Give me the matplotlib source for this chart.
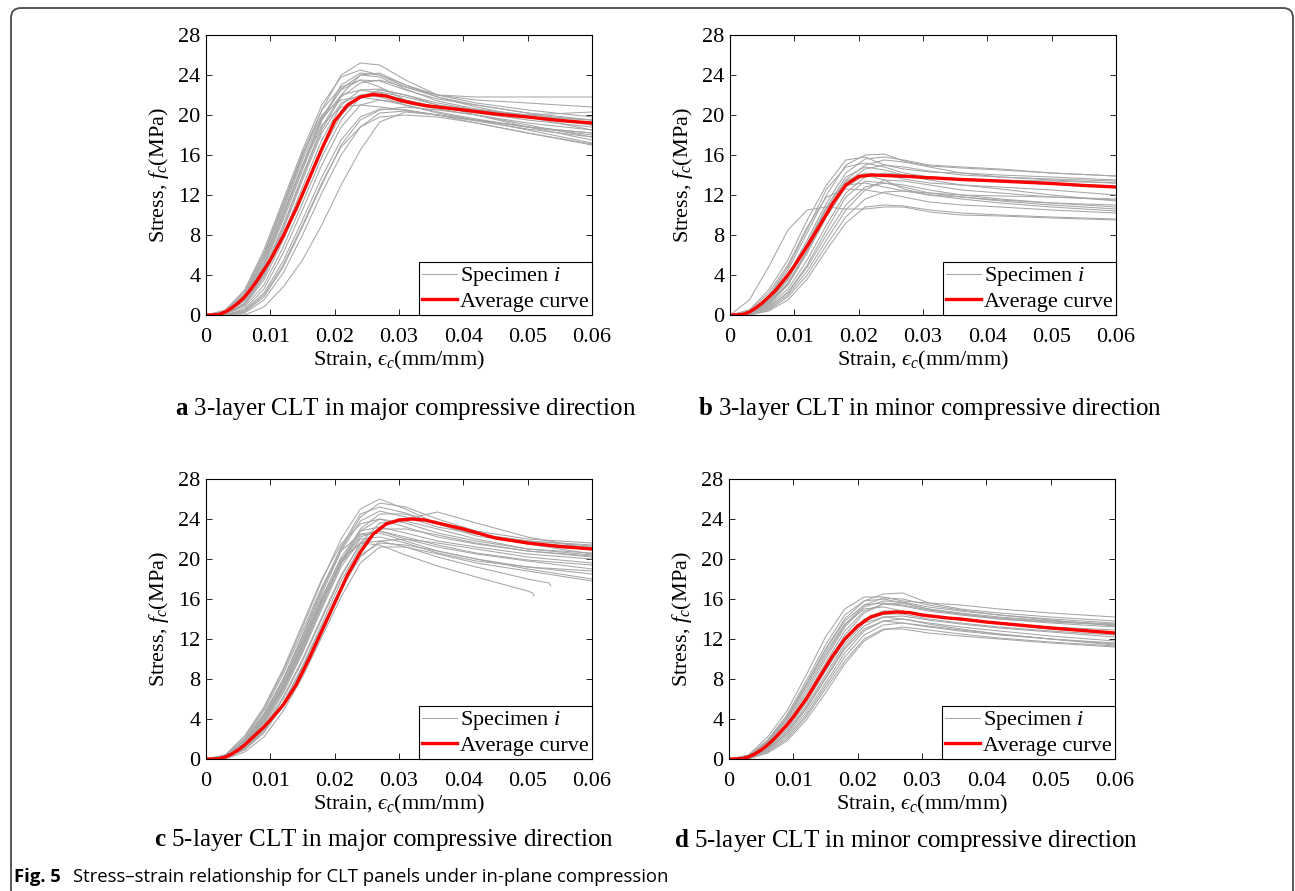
import numpy as np
import matplotlib
matplotlib.use('Agg')
import matplotlib.pyplot as plt
from matplotlib.patches import FancyBboxPatch

plt.rcParams['font.family'] = 'Liberation Serif'
plt.rcParams['mathtext.fontset'] = 'custom'
plt.rcParams['mathtext.rm'] = 'Liberation Serif'
plt.rcParams['mathtext.it'] = 'Liberation Serif:italic'
plt.rcParams['mathtext.bf'] = 'Liberation Serif:bold'

# strain points shared by the specimen curves
strain = [0, 0.003, 0.006, 0.009, 0.012, 0.015, 0.018, 0.021, 0.024, 0.027,
          0.031, 0.036, 0.042, 0.050, 0.060]

# strain points of the average curves
strain_avg = [0, 0.001, 0.002, 0.003, 0.004, 0.005, 0.006, 0.007, 0.008, 0.009,
              0.010, 0.012, 0.014, 0.016, 0.018, 0.020, 0.022, 0.024, 0.026, 0.028,
              0.030, 0.032, 0.034, 0.036, 0.040, 0.045, 0.050, 0.055, 0.060]

# 3-layer, major direction
spec_a = [
    [0, 0.5, 2.5, 6.5, 11.5, 16.5, 21.0, 23.8, 24.5, 24.0, 22.8, 21.8, 21.0, 20.2, 19.5],
    [0, 0.3, 2.0, 5.8, 10.8, 15.8, 20.5, 24.0, 25.2, 25.0, 23.5, 22.0, 21.2, 20.5, 19.8],
    [0, 0.2, 1.5, 4.8, 9.5, 14.5, 19.5, 23.0, 24.2, 24.0, 23.0, 22.0, 21.5, 21.2, 20.8],
    [0, 0.2, 1.8, 5.5, 10.5, 15.5, 19.8, 22.5, 23.5, 23.4, 22.5, 21.6, 21.0, 20.2, 19.0],
    [0, 0.1, 1.2, 4.2, 8.8, 13.8, 18.5, 21.8, 23.2, 23.5, 22.8, 22.0, 21.8, 21.8, 21.8],
    [0, 0.1, 1.0, 3.8, 8.0, 12.8, 17.5, 21.0, 22.5, 22.6, 22.0, 21.2, 20.5, 19.8, 19.0],
    [0, 0.3, 2.2, 6.0, 11.0, 16.0, 20.0, 21.5, 21.8, 21.5, 21.0, 20.3, 19.6, 18.8, 18.0],
    [0, 0.2, 1.6, 5.0, 9.8, 14.8, 19.0, 20.8, 21.0, 20.8, 20.5, 20.0, 19.5, 18.8, 18.2],
    [0, 0.1, 1.0, 3.5, 7.5, 12.0, 16.5, 20.0, 22.0, 22.3, 21.8, 21.0, 20.5, 20.0, 19.5],
    [0, 0.0, 0.6, 2.6, 6.2, 10.5, 15.0, 18.8, 21.0, 21.5, 21.2, 20.6, 20.0, 19.2, 18.5],
    [0, 0.0, 0.5, 2.2, 5.4, 9.5, 13.8, 17.5, 19.8, 20.6, 20.5, 20.0, 19.4, 18.6, 17.8],
    [0, 0.0, 0.2, 1.5, 4.2, 8.0, 12.2, 16.0, 18.8, 20.2, 20.4, 20.0, 19.5, 18.5, 17.2],
    [0, 0.0, 0.3, 1.8, 4.8, 8.8, 13.0, 17.0, 19.5, 20.5, 20.8, 20.5, 20.0, 19.0, 17.8],
    [0, 0.4, 2.4, 6.2, 11.2, 16.2, 20.5, 22.8, 23.5, 22.8, 21.5, 20.8, 20.2, 19.5, 18.8],
    [0, 0.2, 1.4, 4.5, 9.0, 14.0, 18.8, 22.0, 24.0, 24.2, 23.0, 21.8, 20.8, 19.8, 18.5],
    [0, 0.1, 0.8, 3.0, 6.8, 11.2, 15.8, 19.5, 21.8, 22.5, 22.0, 21.0, 20.0, 18.8, 17.5],
    [0, 0.3, 2.0, 5.5, 10.2, 15.0, 19.5, 22.0, 22.5, 22.2, 21.5, 20.8, 20.3, 19.8, 19.5],
    [0, 0.1, 1.1, 4.0, 8.5, 13.5, 18.2, 21.2, 22.0, 21.8, 21.0, 20.2, 19.5, 18.8, 18.2],
    [0, 0.0, 0.4, 2.0, 5.0, 9.0, 13.2, 16.8, 18.8, 19.8, 20.0, 19.8, 19.2, 18.2, 17.0],
    [0, 0.2, 1.7, 5.2, 10.0, 15.0, 19.6, 22.6, 24.0, 23.8, 22.6, 21.4, 20.6, 20.0, 20.3],
    [0, 0.0, 0.0, 0.8, 2.8, 5.5, 9.0, 13.0, 16.5, 19.3, 20.3, 20.0, 19.2, 18.2, 17.1],
]
avg_a = [0, 0, 0.05, 0.3, 0.7, 1.2, 1.8, 2.6, 3.5, 4.5, 5.5, 7.9, 10.6, 13.6, 16.6,
         19.4, 21.0, 21.8, 22.05, 21.9, 21.5, 21.2, 20.95, 20.8, 20.5, 20.1, 19.8, 19.45, 19.2]

# 3-layer, minor direction
spec_b = [
    [0, 1.5, 4.8, 8.5, 10.5, 10.8, 10.6, 10.6, 10.8, 10.8, 10.3, 10.0, 9.9, 9.7, 9.5],
    [0, 0.5, 2.5, 5.5, 9.5, 13.0, 15.5, 15.8, 15.0, 14.6, 14.3, 14.2, 14.0, 13.8, 13.5],
    [0, 0.3, 1.8, 4.5, 8.2, 12.0, 15.0, 16.0, 16.1, 15.4, 14.9, 14.7, 14.5, 14.2, 13.9],
    [0, 0.3, 1.6, 4.0, 7.5, 11.2, 14.2, 15.6, 15.8, 15.5, 15.0, 14.8, 14.6, 14.2, 13.9],
    [0, 0.2, 1.2, 3.2, 6.5, 10.2, 13.5, 15.0, 15.5, 15.3, 14.8, 14.2, 13.8, 13.5, 13.2],
    [0, 0.2, 1.5, 3.8, 7.2, 10.8, 13.4, 14.2, 14.0, 13.6, 13.2, 13.0, 12.8, 12.5, 12.0],
    [0, 0.1, 0.9, 2.6, 5.5, 9.0, 12.2, 13.8, 14.2, 14.0, 13.5, 13.0, 12.6, 12.0, 11.4],
    [0, 0.1, 0.8, 2.2, 4.8, 8.0, 11.0, 12.8, 13.2, 13.0, 12.5, 12.0, 11.6, 11.2, 10.8],
    [0, 0.0, 0.5, 1.8, 4.0, 7.0, 9.8, 11.6, 12.3, 12.4, 12.0, 11.6, 11.2, 10.8, 10.4],
    [0, 0.4, 2.2, 5.0, 8.8, 11.8, 12.6, 12.5, 12.2, 11.8, 11.3, 11.0, 10.8, 10.5, 10.2],
    [0, 0.2, 1.3, 3.5, 7.0, 10.8, 13.8, 14.8, 14.5, 14.0, 13.8, 13.6, 13.4, 13.2, 12.9],
    [0, 0.0, 0.6, 2.0, 4.4, 7.5, 10.5, 12.5, 13.5, 13.4, 13.0, 12.5, 12.2, 11.8, 11.5],
    [0, 0.1, 1.0, 3.0, 6.2, 9.8, 12.8, 14.0, 13.5, 12.6, 12.0, 11.8, 11.5, 11.2, 11.0],
    [0, 0.3, 1.9, 4.8, 8.6, 12.6, 14.8, 15.2, 14.8, 14.2, 13.8, 13.6, 13.5, 13.4, 13.2],
    [0, 0.0, 0.4, 1.5, 3.6, 6.5, 9.2, 10.8, 11.0, 10.9, 10.5, 10.2, 10.0, 9.8, 9.6],
    [0, 0.2, 1.1, 3.1, 6.4, 10.0, 13.2, 14.6, 15.0, 14.8, 14.4, 14.0, 13.8, 13.6, 13.4],
    [0, 0.1, 0.7, 2.3, 5.0, 8.5, 11.8, 13.4, 13.2, 12.8, 12.2, 11.8, 11.4, 11.0, 10.6],
    [0, 0.2, 1.4, 3.6, 7.0, 10.6, 13.0, 13.2, 12.8, 12.4, 12.2, 12.0, 11.9, 11.8, 11.6],
]
avg_b = [0, 0, 0.05, 0.3, 0.7, 1.2, 1.8, 2.4, 3.2, 4.0, 4.9, 6.9, 9.0, 11.2, 13.0,
         13.85, 14.0, 13.95, 13.9, 13.85, 13.75, 13.7, 13.62, 13.55, 13.45, 13.3, 13.15, 12.95, 12.8]

# 5-layer, major direction
spec_c = [
    [0, 0.4, 2.2, 5.0, 8.8, 13.2, 17.8, 22.0, 25.0, 26.0, 25.0, 23.5, 22.3, 21.6, 21.2],
    [0, 0.3, 1.9, 4.5, 8.0, 12.2, 16.8, 21.0, 24.2, 25.6, 25.2, 24.0, 22.8, 22.0, 21.6],
    [0, 0.3, 1.8, 4.3, 7.8, 12.0, 16.5, 20.8, 23.8, 24.8, 24.2, 23.2, 22.5, 21.8, 21.3],
    [0, 0.2, 1.5, 3.8, 7.0, 11.0, 15.5, 19.8, 23.0, 24.5, 24.5, 23.6, 22.6, 21.5, 20.5],
    [0, 0.1, 1.0, 2.8, 5.6, 9.3, 13.5, 17.8, 21.2, 23.2, 24.0, 24.7, 23.6, 22.2, 21.0],
    [0, 0.3, 2.0, 4.8, 8.5, 12.8, 17.2, 20.8, 22.5, 22.8, 22.0, 21.2, 20.5, 19.8, 19.0],
    [0, 0.2, 1.6, 4.0, 7.4, 11.6, 16.0, 20.2, 22.8, 23.2, 22.6, 21.8, 21.2, 20.5, 20.0],
    [0, 0.1, 1.2, 3.2, 6.2, 10.0, 14.2, 18.4, 21.5, 23.0, 23.0, 22.4, 21.6, 20.8, 20.2],
    [0, 0.1, 1.0, 2.8, 5.6, 9.2, 13.2, 17.2, 20.4, 21.6, 21.4, 20.8, 20.0, 19.0, 18.0],
    [0, 0.0, 0.7, 2.2, 4.8, 8.2, 12.2, 16.2, 19.6, 21.2, 21.2, 20.5, 19.6, 18.8, 17.8],
    [0, 0.4, 2.3, 5.2, 9.0, 13.5, 18.0, 21.5, 23.5, 24.0, 23.2, 22.2, 21.5, 20.8, 20.3],
    [0, 0.2, 1.6, 4.0, 7.3, 11.4, 15.8, 19.8, 22.4, 22.6, 21.8, 20.8, 20.0, 19.2, 18.5],
    [0, 0.1, 1.1, 3.0, 6.0, 9.8, 14.0, 18.2, 21.6, 23.6, 23.8, 23.0, 22.0, 21.0, 20.4],
    [0, 0.2, 1.3, 3.4, 6.6, 10.6, 15.0, 19.2, 22.0, 22.2, 21.6, 20.6, 19.8, 19.2, 18.8],
    [0, 0.3, 1.8, 4.4, 8.0, 12.4, 17.0, 21.2, 24.5, 25.2, 24.6, 23.5, 22.5, 21.8, 21.4],
    [0, 0.2, 1.4, 3.6, 6.8, 10.8, 15.2, 19.5, 22.8, 24.0, 23.6, 22.6, 21.8, 21.0, 20.6],
    [0, 0.1, 0.9, 2.6, 5.4, 9.0, 13.0, 17.0, 20.2, 21.8, 22.0, 21.6, 21.0, 20.2, 19.6],
    [0, 0.2, 1.5, 3.8, 7.1, 11.2, 15.6, 19.6, 22.2, 22.8, 22.2, 21.4, 20.6, 19.9, 19.4],
]
# two 5-layer major specimens that failed before 0.06
short_c_strain = [
    [0, 0.003, 0.006, 0.009, 0.012, 0.015, 0.018, 0.021, 0.024, 0.027, 0.031, 0.036,
     0.042, 0.050, 0.0508, 0.0510],
    [0, 0.003, 0.006, 0.009, 0.012, 0.015, 0.018, 0.021, 0.024, 0.027, 0.031, 0.036,
     0.042, 0.050, 0.0533, 0.0536],
]
short_c_stress = [
    [0, 0.3, 1.8, 4.2, 7.6, 11.8, 16.2, 20.0, 21.6, 21.4, 20.4, 19.3, 18.2, 16.8, 16.6, 16.3],
    [0, 0.2, 1.5, 3.8, 7.2, 11.3, 15.8, 19.6, 21.6, 21.8, 21.2, 20.2, 19.2, 18.0, 17.6, 17.3],
]
avg_c = [0, 0, 0.03, 0.2, 0.5, 0.9, 1.4, 2.0, 2.6, 3.2, 3.9, 5.4, 7.4, 10.0, 12.8,
         15.6, 18.4, 20.7, 22.5, 23.5, 23.9, 24.0, 23.9, 23.6, 23.0, 22.1, 21.6, 21.25, 21.0]

# 5-layer, minor direction
spec_d = [
    [0, 0.4, 2.2, 4.8, 8.4, 12.2, 15.0, 16.2, 16.2, 15.8, 15.6, 15.4, 15.0, 14.6, 14.2],
    [0, 0.3, 1.8, 4.2, 7.5, 11.0, 14.0, 15.8, 16.5, 16.6, 15.6, 15.0, 14.6, 14.2, 13.8],
    [0, 0.2, 1.5, 3.6, 6.6, 10.0, 13.2, 15.2, 15.8, 15.7, 15.2, 14.8, 14.4, 14.0, 13.6],
    [0, 0.2, 1.3, 3.2, 6.0, 9.3, 12.4, 14.6, 15.5, 15.6, 15.0, 14.5, 14.0, 13.6, 13.2],
    [0, 0.1, 1.0, 2.6, 5.0, 8.0, 11.0, 13.0, 13.8, 13.6, 13.2, 12.8, 12.4, 12.0, 11.6],
    [0, 0.0, 0.7, 2.0, 4.2, 7.0, 9.8, 12.0, 13.0, 13.0, 12.6, 12.3, 12.0, 11.6, 11.2],
    [0, 0.3, 1.7, 4.0, 7.2, 10.6, 13.5, 15.0, 15.2, 14.8, 14.4, 14.0, 13.6, 13.2, 12.9],
    [0, 0.2, 1.2, 3.0, 5.6, 8.8, 11.8, 13.8, 14.5, 14.5, 14.0, 13.6, 13.2, 12.8, 12.4],
    [0, 0.1, 0.9, 2.4, 4.7, 7.6, 10.6, 12.8, 13.8, 14.0, 13.6, 13.2, 12.8, 12.3, 11.8],
    [0, 0.2, 1.4, 3.4, 6.3, 9.6, 12.8, 14.8, 15.5, 15.3, 14.8, 14.4, 14.0, 13.7, 13.4],
    [0, 0.1, 1.1, 2.8, 5.3, 8.4, 11.5, 13.6, 14.2, 14.0, 13.5, 13.0, 12.5, 12.0, 11.5],
    [0, 0.3, 1.9, 4.4, 7.8, 11.4, 14.4, 15.8, 16.0, 15.6, 15.0, 14.6, 14.2, 13.8, 13.5],
    [0, 0.1, 0.8, 2.2, 4.4, 7.3, 10.2, 12.4, 13.4, 13.6, 13.3, 12.9, 12.5, 12.0, 11.4],
    [0, 0.2, 1.6, 3.8, 6.9, 10.3, 13.4, 15.4, 16.1, 16.0, 15.4, 14.9, 14.4, 13.9, 13.3],
    [0, 0.2, 1.3, 3.2, 5.9, 9.0, 12.0, 14.0, 14.8, 14.8, 14.3, 13.9, 13.5, 13.0, 12.6],
    [0, 0.1, 1.0, 2.6, 5.1, 8.1, 11.2, 13.3, 14.2, 14.3, 13.9, 13.5, 13.1, 12.7, 12.2],
    [0, 0.0, 0.6, 1.8, 3.9, 6.6, 9.5, 11.8, 12.9, 13.2, 12.9, 12.5, 12.1, 11.7, 11.3],
    [0, 0.3, 1.7, 4.1, 7.4, 10.9, 13.8, 15.4, 15.6, 15.4, 14.9, 14.5, 14.1, 13.8, 13.4],
]
avg_d = [0, 0, 0.03, 0.2, 0.5, 0.9, 1.4, 2.0, 2.7, 3.4, 4.2, 6.0, 8.1, 10.2, 12.0,
         13.3, 14.2, 14.6, 14.7, 14.65, 14.4, 14.25, 14.1, 14.0, 13.7, 13.4, 13.1, 12.85, 12.6]

x_ticks = [0, 0.01, 0.02, 0.03, 0.04, 0.05, 0.06]
x_tick_labels = ['0', '0.01', '0.02', '0.03', '0.04', '0.05', '0.06']
y_ticks = [0, 4, 8, 12, 16, 20, 24, 28]

captions = [
    r'$\mathbf{a}$ 3-layer CLT in major compressive direction',
    r'$\mathbf{b}$ 3-layer CLT in minor compressive direction',
    r'$\mathbf{c}$ 5-layer CLT in major compressive direction',
    r'$\mathbf{d}$ 5-layer CLT in minor compressive direction',
]

W, H = 1295, 891
fig = plt.figure(figsize=(W / 100, H / 100), dpi=100)

# axes boxes in pixels: left, top, right, bottom
boxes = [(206, 35, 592, 315), (730, 35, 1116, 315),
         (206, 479, 592, 759), (729, 479, 1115, 759)]
caption_pos = [(406, 409), (930, 409), (384, 840), (906, 840)]
specs = [spec_a, spec_b, spec_c, spec_d]
avgs = [avg_a, avg_b, avg_c, avg_d]

gray = '#a6a6a6'
fs = 16

for k in range(4):
    l, t, r, b = boxes[k]
    ax = fig.add_axes([l / W, 1 - b / H, (r - l) / W, (b - t) / H])
    for j, s in enumerate(specs[k]):
        ax.plot(strain, s, color=gray, lw=0.75, label='Specimen $i$' if j == 0 else None)
    if k == 2:
        for xs, ys in zip(short_c_strain, short_c_stress):
            ax.plot(xs, ys, color=gray, lw=0.75)
    ax.plot(strain_avg, avgs[k], color='red', lw=2.4, label='Average curve')
    ax.set_xlim(0, 0.06)
    ax.set_ylim(0, 28)
    ax.set_xticks(x_ticks)
    ax.set_xticklabels(x_tick_labels)
    ax.set_yticks(y_ticks)
    ax.tick_params(direction='in', length=4, width=0.6, top=True, right=True,
                   labelsize=fs)
    ax.tick_params(axis='x', pad=9)
    ax.tick_params(axis='y', pad=4)
    for sp in ax.spines.values():
        sp.set_linewidth(0.8)
    ax.set_xlabel('Strain, $\u03f5_c$(mm/mm)', fontsize=fs, labelpad=1.5)
    ax.set_ylabel(r'Stress, $f_c$(MPa)', fontsize=fs, labelpad=5)
    leg = ax.legend(loc='lower right', fontsize=fs, borderaxespad=0, fancybox=False,
                    edgecolor='black', framealpha=1, handlelength=1.55,
                    handletextpad=0.15, borderpad=0.15, labelspacing=0.12)
    leg.get_frame().set_linewidth(0.8)

# page overlay in pixel units for the frame and captions
ov = fig.add_axes([0, 0, 1, 1], zorder=-1)
ov.set_xlim(0, W)
ov.set_ylim(H, 0)
ov.axis('off')
frame = FancyBboxPatch((11, 8), 1282, 960, boxstyle='round,pad=0,rounding_size=10',
                       facecolor='none', edgecolor='#4a4a4a', lw=1.3)
ov.add_patch(frame)

for (cx, cy), cap in zip(caption_pos, captions):
    ov.text(cx, cy, cap, fontsize=18, ha='center', va='center')

ov.text(14, 877, 'Fig. 5', fontsize=13.3, fontweight='bold', family='Open Sans',
        ha='left', va='center')
ov.text(73, 877, 'Stress\u2013strain relationship for CLT panels under in-plane compression',
        fontsize=13.3, family='Open Sans', ha='left', va='center')

fig.savefig('out.png', dpi=100)
